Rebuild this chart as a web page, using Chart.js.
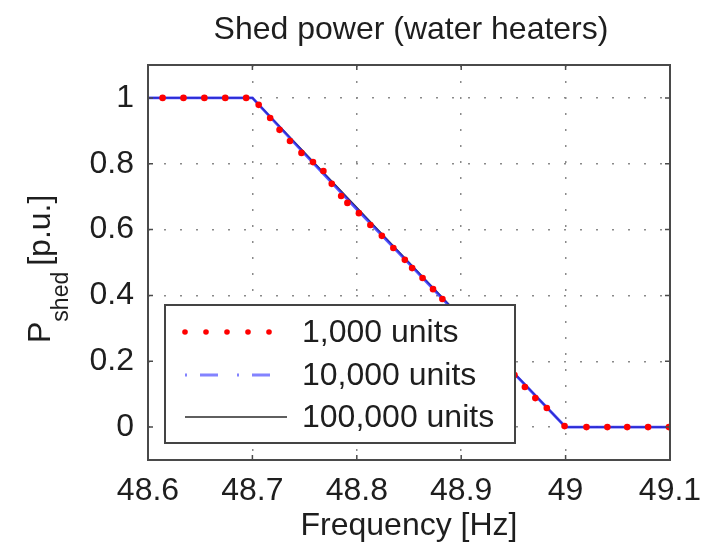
<!DOCTYPE html>
<html>
<head>
<meta charset="utf-8">
<script src="https://cdn.jsdelivr.net/npm/chart.js@4/dist/chart.umd.min.js"></script>
<style>
  html, body { margin: 0; padding: 0; background: #fff; }
  canvas { display: block; }
</style>
</head>
<body>
<canvas id="c" width="710" height="548"></canvas>
<script>
// Frequency grid (Hz) and shed power (p.u.) for each fleet size
const freqRed = [48.614, 48.634, 48.654, 48.674, 48.694, 48.706, 48.717, 48.726, 48.736, 48.747,
                 48.758, 48.768, 48.776, 48.785, 48.791, 48.802, 48.813, 48.824, 48.835, 48.846,
                 48.853, 48.863, 48.873, 48.882, 48.892, 48.902, 48.912, 48.922, 48.932, 48.942,
                 48.951, 48.961, 48.971, 48.982, 48.999, 49.020, 49.040, 49.059, 49.079, 49.099];
const shedRed = [1, 1, 1, 1, 1, 0.979, 0.939, 0.903, 0.869, 0.833,
                 0.805, 0.778, 0.739, 0.702, 0.681, 0.650, 0.614, 0.581, 0.544, 0.508,
                 0.483, 0.453, 0.419, 0.389, 0.355, 0.322, 0.290, 0.256, 0.222, 0.190,
                 0.158, 0.122, 0.088, 0.058, 0.003, 0, 0, 0, 0, 0];

const freqBlue = [48.6, 48.7, 48.75, 48.8, 48.85, 48.9, 48.95, 49.0, 49.1];
const shedBlue = [1, 1, 0.830, 0.662, 0.497, 0.330, 0.165, 0, 0];

const freqBlack = [48.6, 48.7, 49.0, 49.1];
const shedBlack = [1, 1, 0, 0];

const seriesLabels = ['1,000 units', '10,000 units', '100,000 units'];

const xTicks = [48.6, 48.7, 48.8, 48.9, 49.0, 49.1];
const xTickLabels = ['48.6', '48.7', '48.8', '48.9', '49', '49.1'];
const yTicks = [0, 0.2, 0.4, 0.6, 0.8, 1];
const yTickLabels = ['0', '0.2', '0.4', '0.6', '0.8', '1'];

const chartTitle = 'Shed power (water heaters)';
const xTitle = 'Frequency [Hz]';
const yTitleMain = 'P';
const yTitleSub = 'shed';
const yTitleUnit = '[p.u.]';

const FONT = "'Liberation Sans', Arial, Helvetica, sans-serif";
const TEXT = '#1e1e1e';
const RED = '#ff0000';
const BLUE = 'rgba(45,45,255,0.8)';
const BLUE_LEGEND = 'rgba(90,90,255,0.75)';
const BLACK = '#2a2a2a';

const toPoints = (xs, ys) => xs.map((x, i) => ({ x, y: ys[i] }));

// Box, inward ticks, titles and the framed legend
const framePlugin = {
  id: 'frame',
  afterDatasetsDraw(chart) {
    const ctx = chart.ctx;
    const a = chart.chartArea;
    const xs = chart.scales.x, ys = chart.scales.y;
    ctx.save();

    // axes box
    ctx.strokeStyle = '#4a4a4a';
    ctx.lineWidth = 2;
    ctx.strokeRect(a.left, a.top, a.right - a.left, a.bottom - a.top);

    // inward tick marks on all four sides
    const tl = 5;
    ctx.lineWidth = 1.5;
    ctx.beginPath();
    xTicks.forEach(v => {
      const px = xs.getPixelForValue(v);
      ctx.moveTo(px, a.bottom); ctx.lineTo(px, a.bottom - tl);
      ctx.moveTo(px, a.top); ctx.lineTo(px, a.top + tl);
    });
    yTicks.forEach(v => {
      const py = ys.getPixelForValue(v);
      ctx.moveTo(a.left, py); ctx.lineTo(a.left + tl, py);
      ctx.moveTo(a.right, py); ctx.lineTo(a.right - tl, py);
    });
    ctx.stroke();

    // legend
    const lg = { left: 165, top: 305, right: 515, bottom: 443 };
    ctx.fillStyle = '#fff';
    ctx.fillRect(lg.left, lg.top, lg.right - lg.left, lg.bottom - lg.top);
    ctx.strokeStyle = '#444';
    ctx.lineWidth = 2;
    ctx.strokeRect(lg.left, lg.top, lg.right - lg.left, lg.bottom - lg.top);

    const rowY = [332, 375, 417];
    const s0 = 185, s1 = 287;

    // dotted sample
    ctx.fillStyle = RED;
    for (let i = 0; i < 5; i++) {
      ctx.beginPath();
      ctx.arc(s0 + i * 21, rowY[0], 2.8, 0, Math.PI * 2);
      ctx.fill();
    }
    // dash-dot sample
    ctx.strokeStyle = BLUE_LEGEND;
    ctx.lineWidth = 3;
    ctx.setLineDash([2, 13, 18, 19]);
    ctx.beginPath();
    ctx.moveTo(s0, rowY[1]); ctx.lineTo(s1 + 1, rowY[1]);
    ctx.stroke();
    ctx.setLineDash([]);
    // solid sample
    ctx.strokeStyle = BLACK;
    ctx.lineWidth = 1.6;
    ctx.beginPath();
    ctx.moveTo(s0, rowY[2]); ctx.lineTo(s1, rowY[2]);
    ctx.stroke();

    ctx.fillStyle = TEXT;
    ctx.font = '32px ' + FONT;
    ctx.textAlign = 'left';
    ctx.textBaseline = 'middle';
    seriesLabels.forEach((t, i) => ctx.fillText(t, 302, rowY[i] + 1));

    // chart title
    ctx.textAlign = 'center';
    ctx.textBaseline = 'alphabetic';
    ctx.fillText(chartTitle, (a.left + a.right) / 2 + 2, 39);

    // x axis title
    ctx.fillText(xTitle, (a.left + a.right) / 2, 535);

    // y axis title with subscript, rotated
    ctx.translate(50, 343);
    ctx.rotate(-Math.PI / 2);
    ctx.textAlign = 'left';
    ctx.font = '32px ' + FONT;
    ctx.fillText(yTitleMain, 0, 0);
    let off = ctx.measureText(yTitleMain).width;
    ctx.font = '23px ' + FONT;
    ctx.fillText(yTitleSub, off, 18);
    off += ctx.measureText(yTitleSub).width + 6;
    ctx.font = '32px ' + FONT;
    ctx.fillText(yTitleUnit, off, 0);

    ctx.restore();
  }
};

new Chart(document.getElementById('c'), {
  type: 'scatter',
  data: {
    datasets: [
      {
        label: seriesLabels[0],
        data: toPoints(freqRed, shedRed),
        showLine: false,
        pointRadius: 3.3,
        pointBackgroundColor: RED,
        pointBorderWidth: 0,
        pointStyle: 'circle'
      },
      {
        label: seriesLabels[1],
        data: toPoints(freqBlue, shedBlue),
        showLine: true,
        borderColor: BLUE,
        borderWidth: 2.8,
        pointRadius: 0,
        tension: 0
      },
      {
        label: seriesLabels[2],
        data: toPoints(freqBlack, shedBlack),
        showLine: true,
        borderColor: BLACK,
        borderWidth: 1.6,
        pointRadius: 0,
        tension: 0
      }
    ]
  },
  options: {
    responsive: false,
    devicePixelRatio: 1,
    animation: false,
    layout: { padding: { left: 0, right: 40, top: 65, bottom: 0 } },
    plugins: {
      legend: { display: false },
      title: { display: false },
      tooltip: { enabled: false }
    },
    scales: {
      x: {
        type: 'linear',
        min: 48.6,
        max: 49.1,
        afterBuildTicks: s => { s.ticks = xTicks.map(v => ({ value: v })); },
        afterFit: s => { s.height = 88; s.paddingLeft = 0; s.paddingRight = 0; },
        ticks: {
          callback: (v, i) => xTickLabels[i],
          font: { family: FONT, size: 32 },
          color: TEXT,
          padding: 12,
          maxRotation: 0,
          autoSkip: false
        },
        grid: { color: '#8a8a8a', lineWidth: 1.5, drawTicks: false },
        border: { display: false, dash: [2, 14] }
      },
      y: {
        type: 'linear',
        min: -0.1,
        max: 1.1,
        afterBuildTicks: s => { s.ticks = yTicks.map(v => ({ value: v })); },
        afterFit: s => { s.width = 148; s.paddingTop = 0; s.paddingBottom = 0; },
        ticks: {
          callback: (v, i) => yTickLabels[i],
          font: { family: FONT, size: 32 },
          color: TEXT,
          padding: 14,
          autoSkip: false
        },
        grid: { color: '#8a8a8a', lineWidth: 1.5, drawTicks: false },
        border: { display: false, dash: [2, 14] }
      }
    }
  },
  plugins: [framePlugin]
});
</script>
</body>
</html>
